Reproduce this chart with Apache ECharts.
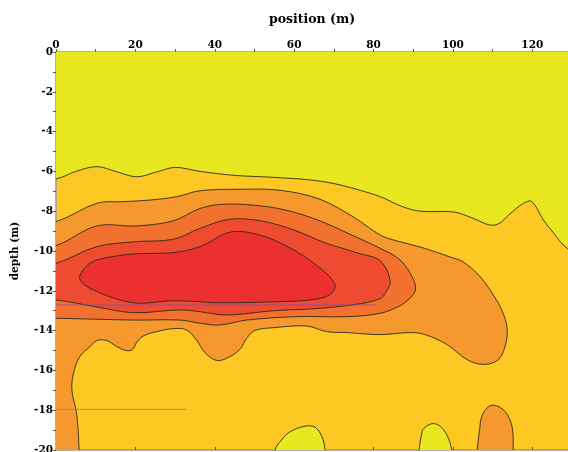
<!DOCTYPE html>
<html>
<head>
<meta charset="utf-8">
<script src="https://cdn.jsdelivr.net/npm/echarts@6/dist/echarts.min.js"></script>
<style>html,body{margin:0;padding:0;background:#fff}#c{width:568px;height:452px}</style>
</head>
<body>
<div id="c"></div>
<script>
// axis settings
const xTitle = 'position (m)';
const yTitle = 'depth (m)';
const xRange = [0, 129];
const yRange = [-20, 0];

// level colours (low -> high)
const levelColors = ['#E9E71F', '#FDC724', '#F5992E', '#F2712F', '#EF4B30', '#EC2F2F'];

// contour boundaries: [position, depth]
const yellowTop = [[-5,5],[-5,-6.38],[0,-6.38],[5,-6.0],[10.3,-5.76],[15,-6.0],[20.3,-6.27],[25,-6.05],[30,-5.8],[36.3,-6.0],[45,-6.2],[55,-6.3],[65,-6.45],[72,-6.7],[81.7,-7.27],[87,-7.75],[91.8,-8.0],[100.2,-8.04],[105,-8.35],[109.4,-8.7],[111.8,-8.6],[114,-8.2],[117.8,-7.6],[119.9,-7.52],[122.8,-8.44],[125.4,-9.1],[128.3,-9.78],[134,-10.4],[134,5]];

const orangeZone = [[-5,-8.53],[0,-8.53],[10.3,-7.6],[17,-7.52],[23.7,-7.44],[30.4,-7.27],[36.3,-6.97],[46.4,-6.9],[56.5,-6.95],[66.5,-7.4],[75,-8.3],[81.7,-9.2],[86,-9.5],[91.8,-9.8],[99.3,-10.3],[102.6,-10.55],[106.9,-11.3],[111.1,-12.5],[112.6,-13.1],[113.6,-13.8],[113.4,-14.6],[111.5,-15.45],[107.7,-15.7],[103.5,-15.45],[98.5,-14.7],[93,-14.2],[89.2,-14.1],[81.7,-14.2],[73.3,-14.1],[68.2,-14.05],[63.2,-13.77],[55,-13.85],[50,-14.0],[48,-14.4],[46.5,-14.9],[43.9,-15.3],[40.5,-15.5],[37.5,-15.1],[35.5,-14.5],[32.9,-13.97],[29.6,-13.9],[25.4,-14.05],[22,-14.27],[20.3,-14.6],[19.3,-14.95],[17.6,-15.0],[15.3,-14.8],[12.8,-14.5],[10.3,-14.5],[8.6,-14.8],[6,-15.3],[4.4,-16.15],[4,-17],[5.2,-18.16],[5.8,-20],[6,-23],[-5,-23]];

const darkOrangeZone = [[-5,-9.73],[0,-9.73],[10.3,-8.74],[20.3,-8.74],[29.6,-8.48],[36.3,-7.86],[42,-7.65],[50,-7.7],[58,-7.95],[66,-8.45],[74,-9.15],[81.7,-9.87],[86.7,-10.45],[90,-11.4],[90.5,-12.0],[88.7,-12.46],[86.7,-12.75],[81.7,-13.13],[73.3,-13.3],[60.7,-13.3],[48,-13.47],[41.3,-13.72],[36.3,-13.63],[31.3,-13.47],[19.5,-13.47],[0,-13.38],[-5,-13.38]];

const redOrangeZone = [[-5,-10.62],[0,-10.62],[10.3,-9.78],[20.3,-9.53],[29.6,-9.41],[36.3,-8.86],[43.9,-8.4],[52,-8.5],[60,-8.95],[68,-9.6],[76,-10.1],[81.7,-10.5],[84.2,-11.5],[83,-12.1],[81.7,-12.4],[75,-12.7],[65,-12.9],[55,-13.0],[45,-13.2],[41.3,-13.2],[36.3,-13.05],[31.3,-12.96],[19.5,-13.1],[10,-12.8],[0,-12.46],[-5,-12.46]];

const redCore = [[6,-11.4],[7.5,-10.8],[10.3,-10.45],[19.5,-10.15],[29.6,-10.08],[36.3,-9.78],[43.9,-9.05],[51.4,-9.2],[59,-9.85],[66.5,-10.85],[70.3,-11.7],[69,-12.2],[64,-12.46],[54,-12.56],[40,-12.6],[36.3,-12.55],[29.6,-12.5],[19.5,-12.6],[9.4,-11.96]];

const yellowBlobA = [[55.2,-21],[55.2,-20],[56.8,-19.5],[59,-19.08],[62.8,-18.8],[65.3,-18.86],[67,-19.33],[67.8,-20],[68,-21]];
const yellowBlobB = [[92.2,-21],[92.2,-19.1],[94.3,-18.7],[96.4,-18.75],[98.5,-19.25],[99.7,-20],[100,-21]];
const orangeBlob = [[106.9,-21],[106.9,-18.66],[108.1,-18.0],[110.2,-17.74],[113.2,-18.08],[114.9,-18.83],[115.2,-20],[115.3,-21]];

// thin marker lines seen in the picture
const markerLineA = [[0,-12.71],[80.4,-12.71]];
const markerLineB = [[0,-17.96],[32.9,-17.96]];

function region(points, color) {
  return {
    type: 'custom',
    coordinateSystem: 'cartesian2d',
    clip: true,
    silent: true,
    data: [points[0]],
    renderItem: function (params, api) {
      const pts = points.map(p => api.coord(p));
      return {
        type: 'polygon',
        shape: { points: pts, smooth: 0.35 },
        style: { fill: color, stroke: '#2b2b1a', lineWidth: 0.9 }
      };
    }
  };
}

const labelFont = { fontFamily: 'DejaVu Serif', fontWeight: 'bold', fontSize: 10.5, color: '#000' };
const xNameFont = { fontFamily: 'DejaVu Serif', fontWeight: 'bold', fontSize: 12.5, color: '#000' };
const yNameFont = { fontFamily: 'DejaVu Serif', fontWeight: 'bold', fontSize: 10.5, color: '#000' };

const chart = echarts.init(document.getElementById('c'));
chart.setOption({
  animation: false,
  grid: { left: 56, top: 52, right: 0, bottom: 2, containLabel: false, outerBoundsMode: 'none',
          show: true, backgroundColor: levelColors[1], borderWidth: 0 },
  xAxis: [{
    type: 'value', position: 'top', min: xRange[0], max: xRange[1], interval: 20,
    name: xTitle, nameLocation: 'middle', nameGap: 26, nameTextStyle: xNameFont,
    axisLine: { show: true, lineStyle: { color: '#9a9a8a', width: 1.5 } },
    axisTick: { show: true, length: 3, lineStyle: { color: '#555' } },
    minorTick: { show: true, splitNumber: 2, length: 3, lineStyle: { color: '#555' } },
    axisLabel: Object.assign({ margin: 1, showMaxLabel: false }, labelFont),
    splitLine: { show: false }
  }, {
    type: 'value', position: 'bottom', min: xRange[0], max: xRange[1], interval: 20,
    axisLine: { show: true, lineStyle: { color: '#9a9a8a', width: 1.5 } },
    axisTick: { show: true, inside: true, length: 3, lineStyle: { color: '#555' } },
    axisLabel: { show: false }, splitLine: { show: false }
  }],
  yAxis: {
    type: 'value', min: yRange[0], max: yRange[1], interval: 2,
    name: yTitle, nameLocation: 'middle', nameGap: 35, nameTextStyle: yNameFont,
    axisLine: { show: true, lineStyle: { color: '#9a9a8a', width: 1.5 } },
    axisTick: { show: true, length: 3, lineStyle: { color: '#555' } },
    minorTick: { show: true, splitNumber: 2, length: 3, lineStyle: { color: '#555' } },
    axisLabel: Object.assign({ margin: 3 }, labelFont),
    splitLine: { show: false }
  },
  series: [
    region(yellowTop, levelColors[0]),
    region(orangeZone, levelColors[2]),
    region(darkOrangeZone, levelColors[3]),
    region(redOrangeZone, levelColors[4]),
    region(redCore, levelColors[5]),
    region(yellowBlobA, levelColors[0]),
    region(yellowBlobB, levelColors[0]),
    region(orangeBlob, levelColors[2]),
    { type: 'line', data: markerLineA, symbol: 'none', silent: true, lineStyle: { color: '#8a4c9c', width: 1, opacity: 0.8 } },
    { type: 'line', data: markerLineB, symbol: 'none', silent: true, lineStyle: { color: '#e0705c', width: 1, opacity: 0.9 } }
  ]
});
</script>
</body>
</html>
